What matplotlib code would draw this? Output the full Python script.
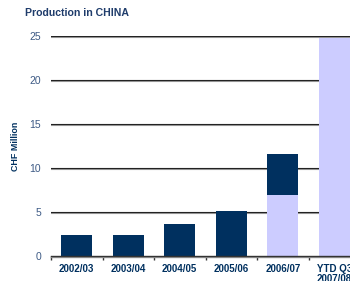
import matplotlib
matplotlib.use("Agg")
import matplotlib.pyplot as plt
import matplotlib.patheffects as pe
import numpy as np

categories = ["2002/03", "2003/04", "2004/05", "2005/06", "2006/07", "YTD Q3\n2007/08"]
light_values = [0, 0, 0, 0, 6.9, 24.8]
dark_values = [2.4, 2.4, 3.65, 5.1, 4.7, 0]
yticks = [0, 5, 10, 15, 20, 25]

navy = "#00305f"
lav = "#ccccff"
tickcol = "#3d5a85"

plt.rcParams['font.family'] = ['Liberation Sans', 'DejaVu Sans']

fig = plt.figure(figsize=(3.5, 2.81), dpi=100)
ax = fig.add_axes([51/350, 25/281, 309/350, 220/281])
x = np.arange(len(categories))

shadow = [pe.SimpleLineShadow(offset=(0, -0.8), shadow_color="#9a9a9a", alpha=1), pe.Normal()]
for y in yticks[1:]:
    ax.axhline(y, color="#222222", lw=0.8, zorder=1, path_effects=shadow)

ax.bar(x, light_values, width=0.6, color=lav, zorder=2)
ax.bar(x, dark_values, width=0.6, bottom=light_values, color=navy, zorder=2)

ax.set_xlim(-0.5, len(categories) - 0.5)
ax.set_ylim(0, 25)
ax.set_yticks(yticks)
ax.set_yticklabels([str(v) for v in yticks], fontsize=7.5, color=tickcol)
ax.tick_params(axis='y', length=0, pad=7)

ax.set_xticks(x)
ax.set_xticklabels(categories, fontsize=7, fontweight='bold', color=navy, va='top',
                   linespacing=1.0)
ax.tick_params(axis='x', length=0, pad=6)
ax.set_xticks(np.arange(-0.5, len(categories)), minor=True)
ax.tick_params(axis='x', which='minor', length=3, width=1, color="#333333", direction='out')

for s in ['left', 'right', 'top']:
    ax.spines[s].set_visible(False)
ax.spines['bottom'].set_color("#333333")
ax.spines['bottom'].set_linewidth(1.0)
ax.spines['bottom'].set_path_effects(shadow)
ax.spines['bottom'].set_zorder(3)

fig.text(25/350, 1 - 13/281, "Production in CHINA", fontsize=7.6, fontweight='bold',
         color="#1f3c6b", va='center', ha='left')
fig.text(15/350, 1 - 146/281, "CHF Million", fontsize=6.4, fontweight='bold',
         color=navy, rotation=90, va='center', ha='center')

fig.savefig("out.png", dpi=100)
